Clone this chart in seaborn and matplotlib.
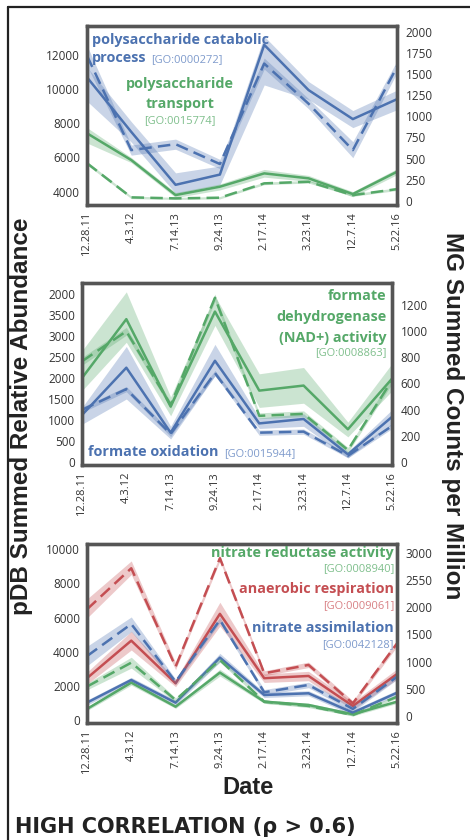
import numpy as np
import matplotlib
matplotlib.use('Agg')
import matplotlib.pyplot as plt
from matplotlib.lines import Line2D
import seaborn as sns

# ── data ────────────────────────────────────────
dates = ['12.28.11', '4.3.12', '7.14.13', '9.24.13', '2.17.14', '3.23.14', '12.7.14', '5.22.16']

# panel 1 - polysaccharides
poly_cat_pdb = [10700, 7500, 4400, 5000, 12600, 9950, 8250, 9420]
poly_cat_pdb_lo = [9300, 6900, 3900, 4400, 10250, 9400, 7750, 8800]
poly_cat_pdb_hi = [11300, 8100, 5100, 5500, 13100, 10450, 8750, 9950]
poly_cat_mg = [1720, 600, 670, 435, 1625, 1150, 600, 1590]
poly_cat_mg_lo = [1600, 540, 610, 380, 1560, 1090, 510, 1520]
poly_cat_mg_hi = [1840, 660, 730, 490, 1690, 1210, 700, 1660]
poly_tr_pdb = [7420, 5850, 3800, 4290, 5070, 4780, 3860, 5170]
poly_tr_pdb_lo = [6850, 5700, 3650, 4100, 4850, 4600, 3700, 5000]
poly_tr_pdb_hi = [7750, 6000, 3950, 4450, 5300, 4950, 4000, 5350]
poly_tr_mg = [445, 40, 28, 36, 206, 225, 67, 138]
poly_tr_mg_lo = [425, 25, 15, 22, 190, 210, 52, 122]
poly_tr_mg_hi = [465, 55, 40, 50, 222, 240, 82, 154]

# panel 2 - formate
fdh_pdb = [2000, 3400, 1320, 3580, 1700, 1820, 780, 1990]
fdh_pdb_lo = [1700, 2850, 1100, 3250, 1300, 1400, 600, 1700]
fdh_pdb_hi = [2650, 4050, 1550, 3950, 2100, 2250, 950, 2350]
fdh_mg = [770, 1000, 436, 1257, 352, 367, 90, 628]
fdh_mg_lo = [740, 970, 410, 1230, 330, 345, 70, 600]
fdh_mg_hi = [800, 1030, 460, 1285, 375, 390, 110, 655]
fox_pdb = [1120, 2245, 700, 2410, 920, 1025, 185, 1080]
fox_pdb_lo = [900, 1500, 550, 2050, 800, 850, 100, 900]
fox_pdb_hi = [1300, 2750, 850, 2800, 1050, 1150, 250, 1250]
fox_mg = [398, 557, 213, 680, 223, 231, 46, 275]
fox_mg_lo = [378, 537, 193, 660, 203, 211, 30, 255]
fox_mg_hi = [418, 577, 233, 700, 243, 251, 62, 295]

# panel 3 - nitrate
nred_pdb = [645, 2190, 780, 2775, 1075, 880, 335, 1075]
nred_pdb_lo = [545, 2040, 680, 2575, 975, 780, 235, 975]
nred_pdb_hi = [745, 2340, 880, 2975, 1175, 980, 435, 1175]
nred_mg = [540, 980, 294, 1030, 263, 184, 18, 355]
nred_mg_lo = [480, 880, 254, 990, 233, 154, 0, 325]
nred_mg_hi = [600, 1080, 334, 1070, 293, 214, 38, 385]
anae_pdb = [2450, 4650, 2150, 6220, 2450, 2580, 820, 2700]
anae_pdb_lo = [2100, 4100, 1950, 5500, 2200, 2300, 600, 2400]
anae_pdb_hi = [2800, 5200, 2350, 6900, 2700, 2850, 1050, 3000]
anae_mg = [1960, 2715, 906, 2900, 785, 938, 233, 1336]
anae_mg_lo = [1800, 2600, 850, 2850, 740, 890, 190, 1280]
anae_mg_hi = [2150, 2850, 980, 2950, 830, 990, 280, 1400]
nass_pdb = [1015, 2345, 1015, 3655, 1465, 1565, 430, 1600]
nass_pdb_lo = [865, 2195, 865, 3405, 1315, 1415, 280, 1450]
nass_pdb_hi = [1165, 2495, 1165, 3905, 1615, 1715, 580, 1750]
nass_mg = [1100, 1690, 630, 1765, 436, 570, 129, 722]
nass_mg_lo = [920, 1550, 580, 1715, 386, 520, 79, 672]
nass_mg_hi = [1280, 1820, 680, 1815, 486, 620, 179, 772]

# axis ticks as printed in the figure
p1_left_ticks = [4000, 6000, 8000, 10000, 12000]
p1_right_ticks = [0, 250, 500, 750, 1000, 1250, 1500, 1750, 2000]
p2_left_ticks = [0, 500, 1000, 1500, 2000, 2500, 3000, 3500, 4000]
p2_left_labels = ['0', '500', '1000', '1500', '2000', '2500', '3000', '3500', '2000']
p2_right_ticks = [0, 200, 400, 600, 800, 1000, 1200]
p3_left_ticks = [0, 2000, 4000, 6000, 8000, 10000]
p3_right_ticks = [0, 500, 1000, 1500, 2000, 2500, 3000]
p3_right_labels = ['0', '500', '1000', '1500', '2000', '2550', '3000']

BLUE = '#4C72B0'
GREEN = '#55A868'
RED = '#C44E52'
GO_BLUE = '#7f9bcc'
GO_GREEN = '#7fbf8c'
GO_RED = '#d88084'
FRAME = '#555555'

sns.set_theme(style='white')
plt.rcParams['font.family'] = ['Open Sans', 'DejaVu Sans']

fig = plt.figure(figsize=(4.7, 8.4), dpi=100)
x = np.arange(len(dates))


def draw(ax, vals, lo, hi, color, dashed=False):
    ax.fill_between(x, lo, hi, color=color, alpha=0.3, lw=0)
    sns.lineplot(x=x, y=vals, ax=ax, color=color, lw=1.8,
                 linestyle=(0, (5, 2.5)) if dashed else '-')


def style_axes(ax, ax2, ylim_l, ylim_r, lt, rt, ll=None, rl=None):
    ax.set_xlim(0, 7)
    ax.set_ylim(*ylim_l)
    ax2.set_ylim(*ylim_r)
    ax.set_xticks(x)
    ax.set_xticklabels(dates, rotation=90, fontsize=8, color='#333333')
    ax.set_yticks(lt)
    ax.set_yticklabels(ll if ll else [str(t) for t in lt], fontsize=8.5, color='#333333')
    ax2.set_yticks(rt)
    ax2.set_yticklabels(rl if rl else [str(t) for t in rt], fontsize=8.5, color='#333333')
    ax.tick_params(axis='both', length=0, pad=5)
    ax2.tick_params(axis='y', length=0, pad=6)
    for a in (ax, ax2):
        for s in a.spines.values():
            s.set_color(FRAME)
            s.set_linewidth(2.4)
        a.grid(False)
        a.set_xlabel('')
        a.set_ylabel('')


def label(ax, xf, yf, txt, color, size=10.4, bold=True, ha='left'):
    ax.text(xf, yf, txt, transform=ax.transAxes, color=color, fontsize=size,
            fontweight='bold' if bold else 'normal', ha=ha, va='baseline', zorder=10)


GO_SIZE = 8

# ── panel 1 ──
ax1 = fig.add_axes([0.185, 0.756, 0.66, 0.213])
ax1b = ax1.twinx()
draw(ax1, poly_cat_pdb, poly_cat_pdb_lo, poly_cat_pdb_hi, BLUE)
draw(ax1, poly_tr_pdb, poly_tr_pdb_lo, poly_tr_pdb_hi, GREEN)
draw(ax1b, poly_cat_mg, poly_cat_mg_lo, poly_cat_mg_hi, BLUE, dashed=True)
draw(ax1b, poly_tr_mg, poly_tr_mg_lo, poly_tr_mg_hi, GREEN, dashed=True)
style_axes(ax1, ax1b, (3220, 13700), (-50, 2070), p1_left_ticks, p1_right_ticks)
label(ax1b, 0.017, 0.899, 'polysaccharide catabolic', BLUE)
label(ax1b, 0.017, 0.799, 'process', BLUE)
label(ax1b, 0.208, 0.799, '[GO:0000272]', GO_BLUE, size=GO_SIZE, bold=False)
label(ax1b, 0.30, 0.654, 'polysaccharide', GREEN, ha='center')
label(ax1b, 0.30, 0.542, 'transport', GREEN, ha='center')
label(ax1b, 0.30, 0.458, '[GO:0015774]', GO_GREEN, size=GO_SIZE, bold=False, ha='center')

# ── panel 2 ──
ax2 = fig.add_axes([0.1745, 0.4464, 0.66, 0.2167])
ax2b = ax2.twinx()
draw(ax2, fdh_pdb, fdh_pdb_lo, fdh_pdb_hi, GREEN)
draw(ax2, fox_pdb, fox_pdb_lo, fox_pdb_hi, BLUE)
draw(ax2b, fdh_mg, fdh_mg_lo, fdh_mg_hi, GREEN, dashed=True)
draw(ax2b, fox_mg, fox_mg_lo, fox_mg_hi, BLUE, dashed=True)
style_axes(ax2, ax2b, (-70, 4260), (-25, 1370), p2_left_ticks, p2_right_ticks, ll=p2_left_labels)
label(ax2b, 0.981, 0.907, 'formate', GREEN, ha='right')
label(ax2b, 0.981, 0.793, 'dehydrogenase', GREEN, ha='right')
label(ax2b, 0.981, 0.678, '(NAD+) activity', GREEN, ha='right')
label(ax2b, 0.981, 0.604, '[GO:0008863]', GO_GREEN, size=GO_SIZE, bold=False, ha='right')
label(ax2b, 0.019, 0.049, 'formate oxidation', BLUE)
label(ax2b, 0.458, 0.049, '[GO:0015944]', GO_BLUE, size=GO_SIZE, bold=False)

# ── panel 3 ──
ax3 = fig.add_axes([0.185, 0.1393, 0.66, 0.213])
ax3b = ax3.twinx()
draw(ax3, nred_pdb, nred_pdb_lo, nred_pdb_hi, GREEN)
draw(ax3, anae_pdb, anae_pdb_lo, anae_pdb_hi, RED)
draw(ax3, nass_pdb, nass_pdb_lo, nass_pdb_hi, BLUE)
draw(ax3b, nred_mg, nred_mg_lo, nred_mg_hi, GREEN, dashed=True)
draw(ax3b, anae_mg, anae_mg_lo, anae_mg_hi, RED, dashed=True)
draw(ax3b, nass_mg, nass_mg_lo, nass_mg_hi, BLUE, dashed=True)
style_axes(ax3, ax3b, (-176, 10310), (-129, 3160), p3_left_ticks, p3_right_ticks, rl=p3_right_labels)
label(ax3b, 0.99, 0.929, 'nitrate reductase activity', GREEN, ha='right')
label(ax3b, 0.99, 0.851, '[GO:0008940]', GO_GREEN, size=GO_SIZE, bold=False, ha='right')
label(ax3b, 0.99, 0.724, 'anaerobic respiration', RED, ha='right')
label(ax3b, 0.99, 0.641, '[GO:0009061]', GO_RED, size=GO_SIZE, bold=False, ha='right')
label(ax3b, 0.99, 0.51, 'nitrate assimilation', BLUE, ha='right')
label(ax3b, 0.99, 0.426, '[GO:0042128]', GO_BLUE, size=GO_SIZE, bold=False, ha='right')

# ── shared labels and frame ──
big = dict(family=['Liberation Sans', 'DejaVu Sans'], fontweight='bold', color='#222222')
fig.text(22 / 470, 1 - 416 / 840, 'pDB Summed Relative Abundance', rotation=90,
         ha='center', va='center', fontsize=17.5, **big)
fig.text(452 / 470, 1 - 416 / 840, 'MG Summed Counts per Million', rotation=270,
         ha='center', va='center', fontsize=17.5, **big)
fig.text(248 / 470, 1 - 787 / 840, 'Date', ha='center', va='center', fontsize=17, **big)
fig.text(15 / 470, 1 - 827 / 840, 'HIGH CORRELATION (ρ > 0.6)', ha='left', va='center',
         fontsize=15, family=['DejaVu Sans'], fontweight='bold', color='#222222')

fig.add_artist(Line2D([8 / 470, 8 / 470], [0, 1 - 7 / 840], transform=fig.transFigure,
                      color='#222222', lw=1.6))
fig.add_artist(Line2D([8 / 470, 1], [1 - 7 / 840, 1 - 7 / 840], transform=fig.transFigure,
                      color='#222222', lw=1.6))

fig.savefig('out.png', dpi=100)
